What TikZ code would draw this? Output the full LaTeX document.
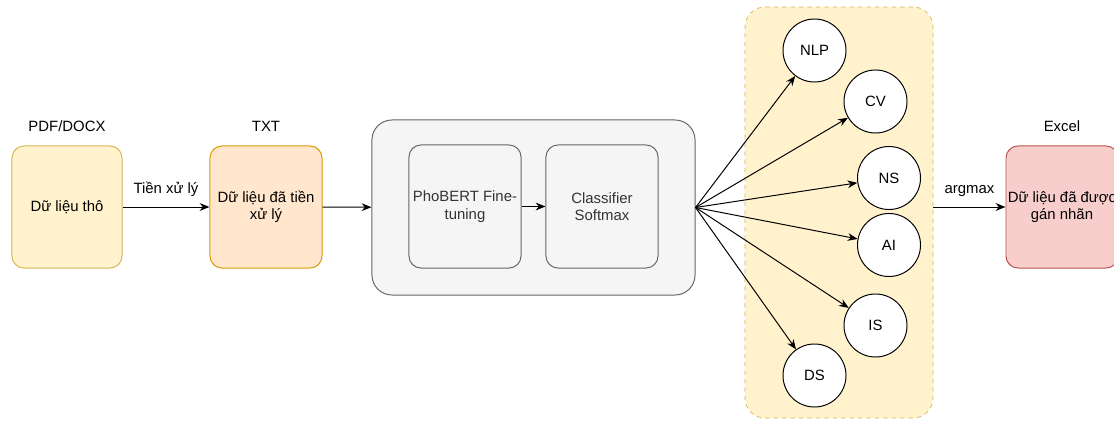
\documentclass[tikz,border=0pt]{standalone}
\usepackage{fontspec}
\setmainfont{Liberation Sans}
\usetikzlibrary{arrows.meta}
\definecolor{rawfill}{HTML}{FFF2CC}
\definecolor{rawline}{HTML}{D6B656}
\definecolor{txtfill}{HTML}{FFE6CC}
\definecolor{txtline}{HTML}{D79B00}
\definecolor{outfill}{HTML}{F8CECC}
\definecolor{outline}{HTML}{B85450}
\definecolor{modfill}{HTML}{F5F5F5}
\definecolor{modline}{HTML}{666666}
\definecolor{modtext}{HTML}{333333}
\tikzset{block/.style={draw, line width=0.7pt, rounded corners=0.3cm, minimum width=2.8cm, minimum height=3.05cm, align=center, inner sep=0pt}}
\tikzset{label/.style={font=\fontsize{10.6}{12.5}\selectfont}}
\tikzset{arr/.style={-{Stealth[length=7pt,width=5.5pt]}, line width=0.7pt}}
\tikzset{cls/.style={draw, circle, fill=white, line width=0.7pt, minimum size=1.575cm, inner sep=0pt, label}}

\begin{document}
\begin{tikzpicture}[x=0.025cm, y=-0.025cm, every node/.style={label}]
\useasboundingbox (0,0) rectangle (1114,421);
% input and preprocessed data
\node [block, fill=rawfill, draw=rawline, minimum width=2.75cm] (raw) at (67,207) {Dữ liệu thô};
\node [block, fill=txtfill, draw=txtline] (txt) at (266,207) {Dữ liệu đã tiền\\xử lý};
\node (rawname) at (67,126) {PDF/DOCX};
\node (txtname) at (266,126) {TXT};
% model
\node [block, fill=modfill, draw=modline, rounded corners=0.5cm, minimum width=8.075cm, minimum height=4.375cm] (model) at (533.5,207.5) {};
\node [block, fill=modfill, draw=modline, text=modtext, minimum height=3.075cm] (bert) at (465,206.5) {PhoBERT Fine-\\tuning};
\node [block, fill=modfill, draw=modline, text=modtext, minimum height=3.075cm] (softmax) at (602,206.5) {Classifier\\Softmax};
% labels
\node [draw=rawline, fill=rawfill, dashed, line width=0.5pt, rounded corners=0.5cm, minimum width=4.7cm, minimum height=10.275cm] (classes) at (839,212.5) {};
\foreach \n/\x/\y in {NLP/814.5/50.5, CV/875.5/101.5, NS/889/178, AI/889/245, IS/875.5/325.5, DS/814.5/375.5} {
  \node [cls] (\n) at (\x,\y) {\n};
  \draw [arr] (model.east) -- (\n);
}
% output
\node [block, fill=outfill, draw=outline] (out) at (1062,207) {Dữ liệu đã được\\gán nhãn};
\node (outname) at (1062,126) {Excel};
\draw [arr] (raw) -- node [above=4pt] {Tiền xử lý} (txt);
\draw [arr] (txt) -- (model);
\draw [arr] (bert) -- (softmax);
\draw [arr] (classes.east |- out.west) -- node [above=4pt] {argmax} (out);
\end{tikzpicture}
\end{document}
